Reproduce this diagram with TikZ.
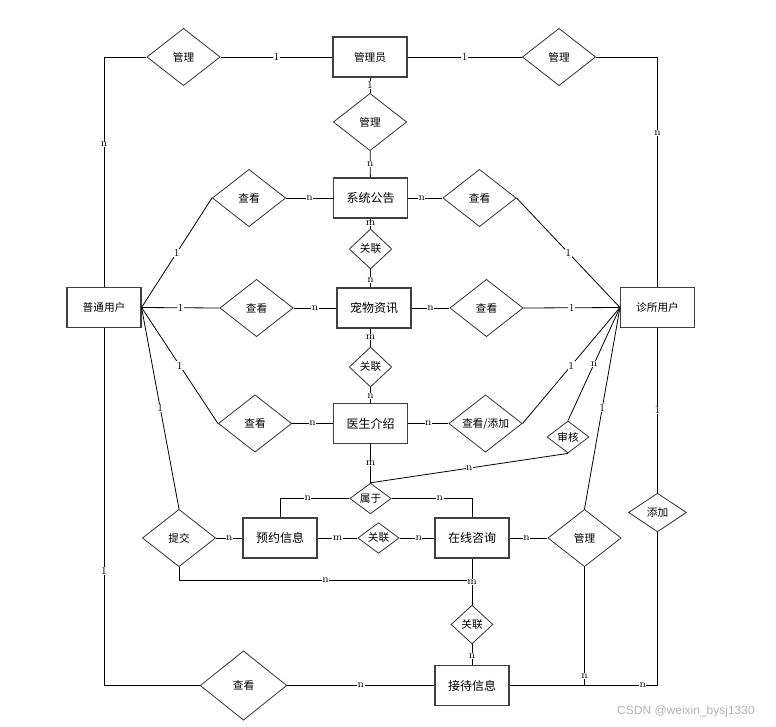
\documentclass[tikz,border=0pt]{standalone}
\usepackage{fontspec}
\newfontfamily\cjk{Noto Sans CJK SC}
\newfontfamily\wmfont{Liberation Sans}
\usetikzlibrary{shapes.geometric}

\begin{document}
\begin{tikzpicture}[x=0.75pt, y=-0.75pt, line width=0.6pt,
    entity/.style={draw=black!75, line width=0.8pt, fill=white, font=\cjk\fontsize{9}{10}\selectfont,
        minimum width=55.5pt, minimum height=30pt, inner sep=1pt},
    smallentity/.style={entity, font=\cjk\fontsize{8}{9}\selectfont},
    relation/.style={diamond, draw=black!80, fill=white, font=\cjk\fontsize{8}{9}\selectfont,
        shape aspect=1.3, inner sep=0pt, minimum width=55pt, minimum height=43pt},
    gate/.style={relation, minimum width=31pt, minimum height=23pt},
    card/.style={fill=white, font=\fontsize{8}{9}\selectfont, inner sep=0.4pt}]
    \useasboundingbox (0,0) rectangle (776,726);

    \node[smallentity] (admin) at (370,57) {管理员};
    \node[relation] (mgrL) at (183.5,57) {管理};
    \node[relation] (mgrR) at (559,57) {管理};
    \node[relation] (mgrM) at (370,122) {管理};
    \node[entity] (notice) at (370.5,198) {系统公告};
    \node[relation] (viewA) at (249,198) {查看};
    \node[relation] (viewD) at (479.5,198) {查看};
    \node[smallentity] (user) at (104,307.5) {普通用户};
    \node[smallentity] (clinic) at (657.5,307.5) {诊所用户};
    \node[gate, minimum width=32pt, minimum height=30pt] (rel1) at (370.5,249) {关联};
    \node[entity] (pet) at (374,308) {宠物资讯};
    \node[relation] (viewB) at (256.5,308) {查看};
    \node[relation] (viewE) at (486.5,308) {查看};
    \node[gate, minimum width=32pt, minimum height=30pt] (rel2) at (370.5,367) {关联};
    \node[entity] (doctor) at (370.5,423.5) {医生介绍};
    \node[relation] (viewC) at (255,423.5) {查看};
    \node[relation] (viewAdd) at (485.5,423.5) {查看/添加};
    \node[gate, minimum width=31.5pt, minimum height=24pt] (audit) at (568,437) {审核};
    \node[gate] (belong) at (370.5,498.5) {属于};
    \node[relation] (submit) at (179,538) {提交};
    \node[entity] (appoint) at (280,538) {预约信息};
    \node[gate] (rel3) at (378.5,538) {关联};
    \node[entity] (consult) at (472,538) {在线咨询};
    \node[relation] (mgrC) at (584.5,538) {管理};
    \node[gate, minimum width=43.5pt, minimum height=29pt] (add) at (657.5,512.5) {添加};
    \node[gate, minimum width=31.5pt, minimum height=29pt] (rel4) at (472,624.5) {关联};
    \node[entity] (reception) at (472,685.5) {接待信息};
    \node[relation, minimum width=65pt, minimum height=52pt] (viewF) at (243.5,685.5) {查看};
    \coordinate (junc) at (472,580);
    \coordinate (mjunc) at (mgrC.south |- reception.east);

    \draw (user.north) |- node[card, pos=0.31] {n} (mgrL.west);
    \draw (mgrL) -- node[card] {1} (admin);
    \draw (admin) -- node[card] {1} (mgrR);
    \draw (mgrR.east) -| node[card, pos=0.665] {n} (clinic.north);
    \draw (admin) -- node[card] {1} (mgrM);
    \draw (mgrM) -- node[card] {n} (notice);
    \draw (user.east) -- node[card] {1} (viewA.west);
    \draw (viewA) -- node[card] {n} (notice);
    \draw (notice) -- node[card, pos=0.4] {n} (viewD);
    \draw (viewD.east) -- node[card] {1} (clinic.west);
    \draw (user.east) -- node[card] {1} (viewB.west);
    \draw (viewB) -- node[card] {n} (pet);
    \draw (pet) -- node[card] {n} (viewE);
    \draw (viewE.east) -- node[card] {1} (clinic.west);
    \draw (user.east) -- node[card] {1} (viewC.west);
    \draw (viewC) -- node[card] {n} (doctor);
    \draw (doctor) -- node[card] {n} (viewAdd);
    \draw (viewAdd.east) -- node[card] {1} (clinic.west);
    \draw (audit.north) -- node[card] {n} (clinic.west);
    \draw (clinic.west) -- node[card] {1} (mgrC.north);
    \draw (clinic.south) -- node[card] {1} (add.north);
    \draw (user.east) -- node[card] {1} (submit.north);
    \draw (notice) -- node[card] {m} (rel1);
    \draw (rel1.south) -- node[card, pos=0.6] {n} (rel1.south |- pet.north);
    \draw (rel2.north |- pet.south) -- node[card, pos=0.45] {m} (rel2.north);
    \draw (rel2) -- node[card, pos=0.55] {n} (doctor);
    \draw (doctor) -- node[card] {m} (belong);
    \draw (belong.north) -- node[card] {n} (audit.south);
    \draw (belong.west) -| node[card, pos=0.3] {n} (appoint.north);
    \draw (belong.east) -| node[card, pos=0.3] {n} (consult.north);
    \draw (submit) -- node[card] {n} (appoint);
    \draw (appoint) -- node[card] {m} (rel3);
    \draw (rel3) -- node[card, pos=0.55] {n} (consult);
    \draw (consult) -- node[card, pos=0.45] {n} (mgrC);
    \draw (submit.south) |- node[card, pos=0.75] {n} (junc);
    \draw (consult) -- node[card] {m} (rel4);
    \draw (rel4) -- node[card, pos=0.57] {n} (reception);
    \draw (mgrC.south) -- node[card, pos=0.92] {n} (mjunc);
    \draw (reception.east) -| node[card, pos=0.45] {n} (add.south);
    \draw (user.south) |- node[card, pos=0.34] {1} (viewF.west);
    \draw (viewF) -- node[card] {n} (reception);

    \node[text=black!30, font=\wmfont\fontsize{9}{10}\selectfont] (mark) at (686,711) {CSDN @weixin\_bysj1330};
\end{tikzpicture}
\end{document}
